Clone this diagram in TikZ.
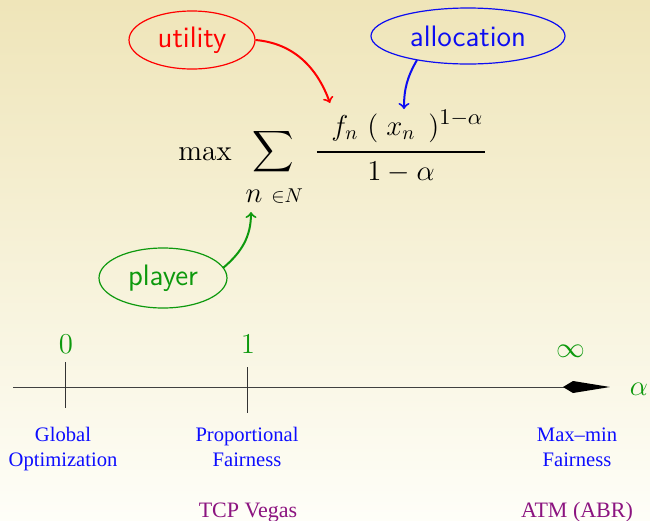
\documentclass[tikz,border=0pt]{standalone}
\usepackage{fontspec}
\usepackage{amsmath}
\newfontfamily\timesf{Liberation Serif}
\usetikzlibrary{shapes.geometric}
\definecolor{bgtop}{rgb}{0.937,0.898,0.725}
\definecolor{bgbot}{rgb}{0.996,0.996,0.972}
\definecolor{ured}{rgb}{1,0,0}
\definecolor{ablue}{rgb}{0.05,0.05,0.95}
\definecolor{pgreen}{rgb}{0.05,0.6,0.05}
\definecolor{lblue}{rgb}{0.05,0.05,1}
\definecolor{purp}{rgb}{0.55,0.08,0.5}
\begin{document}
\begin{tikzpicture}[x=0.5pt,y=-0.5pt,
  bubble/.style={ellipse, draw, line width=0.6pt, font=\sffamily\fontsize{14.8}{17}\selectfont, inner sep=0pt},
  fm/.style={inner sep=0pt, font=\fontsize{14.6}{17}\selectfont},
  callout/.style={->, line width=1pt},
  lab/.style={anchor=base, text=lblue, font=\timesf\fontsize{10.3}{13}\selectfont, inner sep=0pt},
  ex/.style={anchor=base, text=purp, font=\timesf\fontsize{11}{13}\selectfont, inner sep=0pt},
  num/.style={text=pgreen, inner sep=0pt, font=\fontsize{14.4}{17}\selectfont},
]
\shade[top color=bgtop, bottom color=bgbot] (0,0) rectangle (650,521);
\useasboundingbox (0,0) rectangle (650,521);

% ellipses
\node[bubble, draw=ured, text=ured, minimum width=63pt, minimum height=29pt] (util) at (192,40) {utility};
\node[bubble, draw=ablue, text=ablue, minimum width=97pt, minimum height=28pt] (alloc) at (468,36) {allocation};
\node[bubble, draw=pgreen, text=pgreen, minimum width=64pt, minimum height=30pt] (play) at (163,278) {player};

% formula
\node[fm, anchor=base west] (max) at (178,160) {$\max$};
\node[fm] (sum) at (273,152) {$\displaystyle\sum$};
\node[fm, anchor=base] (nsub) at (254,202) {$n$};
\node[fm, anchor=base west] (inN) at (271,202) {$\scriptstyle\in N$};
\node[fm, anchor=base west] (fn) at (331,135) {$f_n$};
\node[fm, anchor=base west] (lp) at (367,135) {$($};
\node[fm, anchor=base west] (xn) at (386,135) {$x_n$};
\node[fm, anchor=base west] (rp) at (428,135) {$)^{\scalebox{1.12}{$\scriptstyle 1-\alpha$}}$};
\coordinate (ruleL) at (317,152);
\coordinate (ruleR) at (485,152);
\draw[line width=0.6pt] (ruleL) -- (ruleR);
\node[fm, anchor=base] (den) at (401,180) {$1-\alpha$};

% callout arrows
\coordinate (fnTop) at (330,103);
\coordinate (xnTop) at (404,109);
\coordinate (nBot) at (251,212);
\coordinate (aStart) at (417,60);
\coordinate (pStart) at (223,268);
\draw[callout, ured] (util.east) to[out=-5,in=110] (fnTop);
\draw[callout, ablue] (aStart) to[out=-120,in=90] (xnTop);
\draw[callout, pgreen] (pStart) to[out=40,in=-90] (nBot);

% axis
\coordinate (axL) at (13,387);
\coordinate (axR) at (565,387);
\draw[line width=0.5pt, black!75] (axL) -- (axR);
\coordinate (hA) at (563,387);
\coordinate (hB) at (573,381);
\coordinate (hC) at (610,387);
\coordinate (hD) at (573,393);
\fill[black] (hA) -- (hB) -- (hC) -- (hD) -- cycle;
\coordinate (t0a) at (65,362); \coordinate (t0b) at (65,408);
\coordinate (t1a) at (247,367); \coordinate (t1b) at (247,413);
\draw[line width=0.4pt, black!80] (t0a) -- (t0b);
\draw[line width=0.4pt, black!80] (t1a) -- (t1b);

\node[num] (zero) at (66,344) {$0$};
\node[num] (one) at (248,344) {$1$};
\node[num] (inf) at (571,351) {$\infty$};
\node[num] (alpha) at (639,389) {$\alpha$};

\node[lab] (glob1) at (63,441) {Global};
\node[lab] (glob2) at (63,466) {Optimization};
\node[lab] (prop1) at (247,441) {Proportional};
\node[lab] (prop2) at (247,466) {Fairness};
\node[lab] (mm1) at (577,441) {Max–min};
\node[lab] (mm2) at (577,466) {Fairness};
\node[ex] (tcp) at (248,517) {TCP Vegas};
\node[ex] (atm) at (577,517) {ATM (ABR)};
\end{tikzpicture}
\end{document}
